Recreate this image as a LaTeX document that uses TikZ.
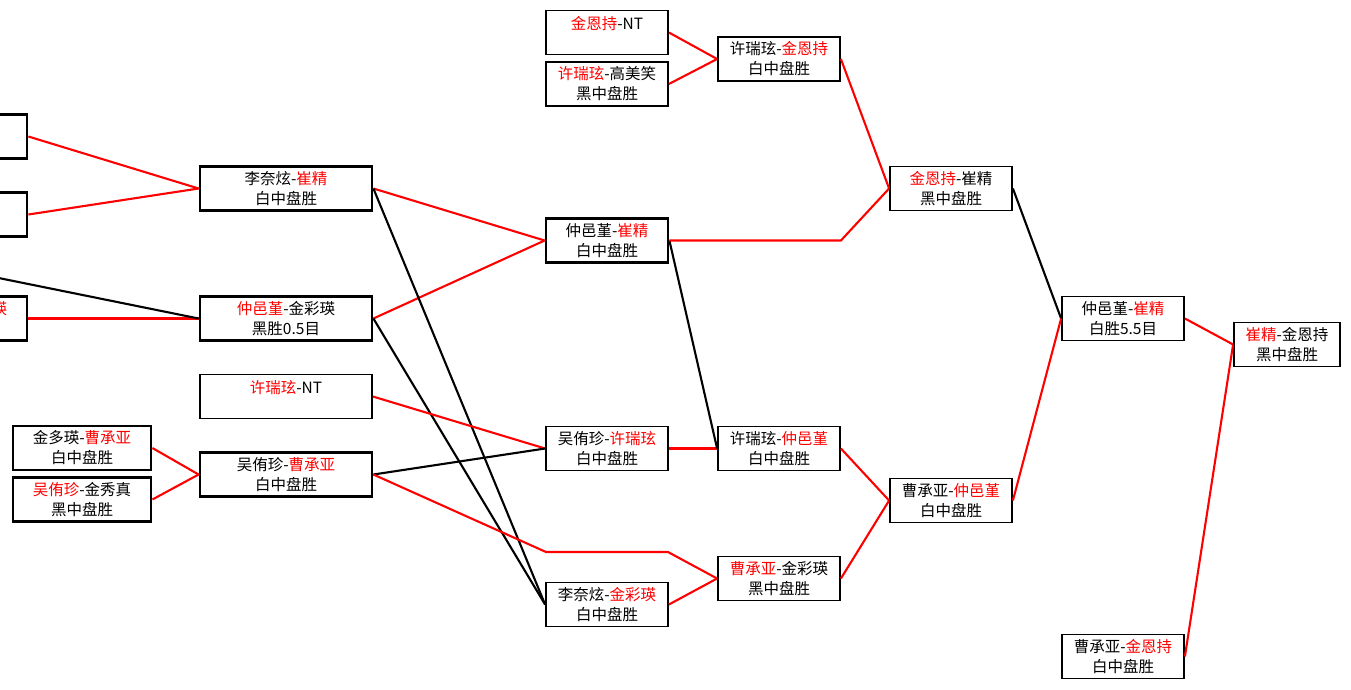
\documentclass[tikz,border=0pt]{standalone}
\usepackage{fontspec}
\setmainfont{Noto Sans CJK SC}
\usepackage{tikz}
\newcommand{\wname}[1]{{\color{red}#1}}

\begin{document}
\begin{tikzpicture}[x=1pt,y=-1pt,
  game/.style={draw,line width=1.8pt,minimum width=122pt,minimum height=44pt,inner sep=0pt,align=center,font=\fontsize{15.5}{20}\selectfont},
  gamewide/.style={game,minimum width=172pt},
  gameleft/.style={game,minimum width=138pt},
  gamebold/.style={line width=2.8pt},
  win/.style={red,line width=2.1pt},
  lose/.style={black,line width=2.1pt}]
\clip (0,0) rectangle (1351,689);
\fill[white] (0,0) rectangle (1351,689);
% first round (cut off at the left)
\node[gameleft,gamebold] (boxa) at (-42,136.5) {};
\node[gameleft,gamebold] (boxb) at (-42,214.5) {};
\node[gameleft,gamebold] (boxc) at (-42,318.5) {\hphantom{金彩瑛-金彩}\wname{瑛}\\\mbox{}};
\coordinate (offl) at (-100,258);
\node[gameleft,gamebold] (jdcc) at (82,448) {金多瑛-\wname{曹承亚}\\白中盘胜};
\node[gameleft,gamebold] (wyjx) at (82,499.5) {\wname{吴侑珍}-金秀真\\黑中盘胜};
% second column
\node[gamewide,gamebold] (lncj) at (286,188.5) {李奈炫-\wname{崔精}\\白中盘胜};
\node[gamewide,gamebold] (zjcy) at (286,318.5) {\wname{仲邑堇}-金彩瑛\\黑胜0.5目};
\node[gamewide] (xrnt) at (286,396.5) {\wname{许瑞玹}-NT\\\mbox{}};
\node[gamewide,gamebold] (wccy) at (286,474.5) {吴侑珍-\wname{曹承亚}\\白中盘胜};
% third column
\node[game] (jent) at (607,32.5) {\wname{金恩持}-NT\\\mbox{}};
\node[game] (xrgm) at (607,84) {\wname{许瑞玹}-高美笑\\黑中盘胜};
\node[game,gamebold] (zjcj1) at (607,240.5) {仲邑堇-\wname{崔精}\\白中盘胜};
\node[game] (wyxr) at (607,448.5) {吴侑珍-\wname{许瑞玹}\\白中盘胜};
\node[game] (lnjc) at (607,604.5) {李奈炫-\wname{金彩瑛}\\白中盘胜};
% fourth column
\node[game] (xrje) at (779,59) {许瑞玹-\wname{金恩持}\\白中盘胜};
\node[game] (xrzj) at (779,448.5) {许瑞玹-\wname{仲邑堇}\\白中盘胜};
\node[game] (ccjc) at (779,578.5) {\wname{曹承亚}-金彩瑛\\黑中盘胜};
% fifth column
\node[game] (jecj) at (951,188.5) {\wname{金恩持}-崔精\\黑中盘胜};
\node[game] (cczj) at (951,500.5) {曹承亚-\wname{仲邑堇}\\白中盘胜};
% sixth column
\node[game] (zjcj2) at (1123,318.5) {仲邑堇-\wname{崔精}\\白胜5.5目};
\node[game] (ccje) at (1123,656.5) {曹承亚-\wname{金恩持}\\白中盘胜};
% final
\node[game,minimum width=106pt] (final) at (1287,344.5) {\wname{崔精}-金恩持\\黑中盘胜};
% bend points
\coordinate (ccbenda) at (546,552);
\coordinate (ccbendb) at (668,552);
% lines, first round
\draw[win] (boxa.east) -- (lncj.west);
\draw[win] (boxb.east) -- (lncj.west);
\draw[win] (boxc.east) -- (zjcy.west);
\draw[lose] (offl) -- (zjcy.west);
\draw[win] (jdcc.east) -- (wccy.west);
\draw[win] (wyjx.east) -- (wccy.west);
% lines, second round
\draw[win] (lncj.east) -- (zjcj1.west);
\draw[win] (zjcy.east) -- (zjcj1.west);
\draw[lose] (lncj.east) -- (lnjc.west);
\draw[lose] (zjcy.east) -- (lnjc.west);
\draw[win] (xrnt.east) -- (wyxr.west);
\draw[lose] (wccy.east) -- (wyxr.west);
\draw[win] (wccy.east) -- (ccbenda) -- (ccbendb) -- (ccjc.west);
% lines, third round
\draw[win] (jent.east) -- (xrje.west);
\draw[win] (xrgm.east) -- (xrje.west);
\draw[win] (wyxr.east) -- (xrzj.west);
\draw[lose] (zjcj1.east) -- (xrzj.west);
\draw[win] (lnjc.east) -- (ccjc.west);
% lines, fourth round
\draw[win] (xrje.east) -- (jecj.west);
\draw[win] (zjcj1.east) -- (zjcj1.east -| xrje.east) -- (jecj.west);
\draw[win] (xrzj.east) -- (cczj.west);
\draw[win] (ccjc.east) -- (cczj.west);
% semifinal and final
\draw[lose] (jecj.east) -- (zjcj2.west);
\draw[win] (cczj.east) -- (zjcj2.west);
\draw[win] (zjcj2.east) -- (final.west);
\draw[win] (ccje.east) -- (final.west);
\end{tikzpicture}
\end{document}
